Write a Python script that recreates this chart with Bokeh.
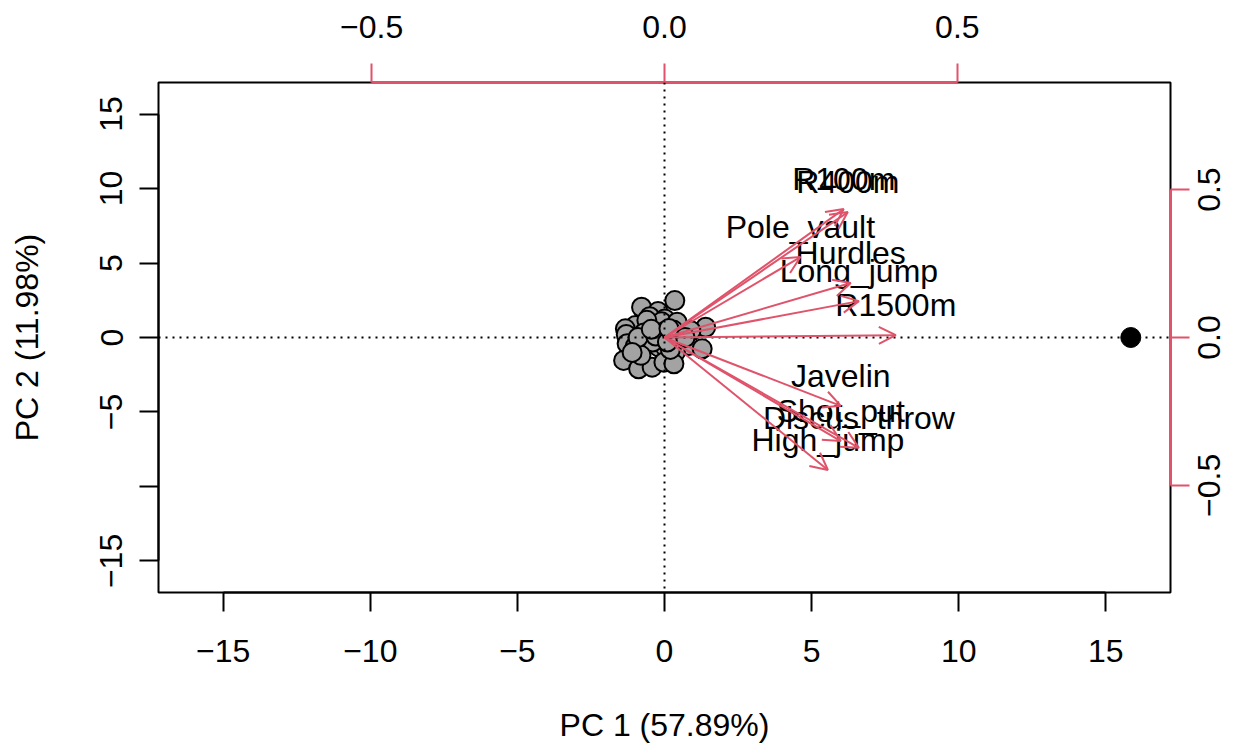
import math
from bokeh.plotting import figure
from bokeh.models import (Range1d, LinearAxis, FixedTicker, Span, Arrow, OpenHead,
                          ColumnDataSource)
from bokeh.core.properties import value
from bokeh.embed import file_html
from bokeh.resources import INLINE

# ---- data ----
pc1_scores = [0.35, -0.78, -0.22, -0.50, 0.01, -0.99, -1.33, -0.42, -0.10, -0.60,
              0.43, 1.40, 0.90, 0.30, -1.30, -0.70, 0.00, -1.27, -0.65, -0.19,
              0.03, 0.83, 1.28, 0.37, -1.00, -0.40, 0.40, -1.39, -0.88, -0.42,
              -0.02, 0.32, -0.80, 0.20, 0.70, -0.90, -0.30, 0.10, -1.10, -0.45,
              0.15]
pc2_scores = [2.48, 2.03, 1.75, 1.40, 1.25, 0.80, 0.58, 0.92, 1.05, 1.15,
              1.03, 0.69, 0.45, 0.50, 0.20, 0.30, 0.40, -0.42, -0.42, -0.65,
              -0.65, -0.54, -0.76, -0.99, -0.60, -0.30, -0.20, -1.54, -2.10, -1.99,
              -1.66, -1.77, -1.20, -0.80, 0.00, 0.00, 0.10, -0.30, -1.00, 0.55,
              0.60]
outlier_pc1 = [15.85]
outlier_pc2 = [0.0]

variables = ["R100m", "R400m", "Pole_vault", "Hurdles", "Long_jump", "R1500m",
             "Javelin", "Shot_put", "Discus_throw", "High_jump"]
load_pc1 = [0.306, 0.313, 0.232, 0.318, 0.332, 0.395, 0.301, 0.301, 0.332, 0.279]
load_pc2 = [0.434, 0.424, 0.272, 0.184, 0.123, 0.008, -0.231, -0.350, -0.373, -0.448]

x_ticks = [-15, -10, -5, 0, 5, 10, 15]
x_tick_labels = ["\u221215", "\u221210", "\u22125", "0", "5", "10", "15"]
y_ticks = [-15, -10, -5, 0, 5, 10, 15]
y_tick_labels = ["\u221215", "", "\u22125", "0", "5", "10", "15"]
load_ticks = [-0.5, 0.0, 0.5]
load_tick_labels = ["\u22120.5", "0.0", "0.5"]

x_title = "PC 1 (57.89%)"
y_title = "PC 2 (11.98%)"

RED = "#DF536B"
FONT = "Liberation Sans"
FS_PX = 32
FS = f"{FS_PX}px"

LOAD_Y = 0.862
FRAME_H = 745 - 82 - 153

p = figure(width=1245, height=745, output_backend="svg", toolbar_location=None,
           x_range=Range1d(-17.2, 17.2), y_range=Range1d(-17.12, 17.12),
           x_axis_type=None, y_axis_type=None,
           min_border_left=158, min_border_right=75, min_border_top=82,
           min_border_bottom=153)
p.extra_x_ranges = {"load": Range1d(-0.864, 0.864)}
p.extra_y_ranges = {"load": Range1d(-LOAD_Y, LOAD_Y)}
p.outline_line_color = "black"
p.outline_line_width = 2
p.background_fill_color = "white"
p.border_fill_color = "white"


def style(ax, color="black"):
    ax.axis_line_color = color
    ax.axis_line_width = 2
    ax.major_tick_line_color = color
    ax.major_tick_line_width = 2
    ax.major_tick_in = 0
    ax.major_tick_out = 19
    ax.minor_tick_line_color = None
    ax.major_label_text_font = FONT
    ax.major_label_text_font_size = FS
    ax.major_label_text_color = "black"
    ax.axis_label_text_font = FONT
    ax.axis_label_text_font_size = FS
    ax.axis_label_text_font_style = "normal"
    ax.axis_label_text_color = "black"


bottom = LinearAxis(ticker=FixedTicker(ticks=x_ticks), bounds=(-15, 15),
                    axis_label=x_title,
                    major_label_overrides=dict(zip(x_ticks, x_tick_labels)))
style(bottom)
bottom.major_label_standoff = 28
bottom.axis_label_standoff = 42
p.add_layout(bottom, "below")

left = LinearAxis(ticker=FixedTicker(ticks=y_ticks), bounds=(-15, 15),
                  axis_label=y_title,
                  major_label_overrides=dict(zip(y_ticks, y_tick_labels)))
style(left)
left.major_label_orientation = "vertical"
left.major_label_standoff = 17
left.axis_label_standoff = 53
p.add_layout(left, "left")

top = LinearAxis(x_range_name="load", ticker=FixedTicker(ticks=load_ticks),
                 bounds=(-0.5, 0.5),
                 major_label_overrides=dict(zip(load_ticks, load_tick_labels)))
style(top, RED)
top.major_label_standoff = 26
p.add_layout(top, "above")

# right axis: line + ticks only
right = LinearAxis(y_range_name="load", ticker=FixedTicker(ticks=load_ticks),
                   bounds=(-0.5, 0.5),
                   major_label_overrides={t: "" for t in load_ticks})
style(right, RED)
right.major_label_standoff = 0
p.add_layout(right, "right")

# right axis labels (bottom-to-top, centred on the ticks)
CHAR_W = {"\u2212": 0.584, "0": 0.556, ".": 0.278, "5": 0.556}
px_per_unit = FRAME_H / (2 * LOAD_Y)
shifted = []
for t, lab in zip(load_ticks, load_tick_labels):
    half_w = 0.5 * sum(CHAR_W.get(c, 0.556) for c in lab) * FS_PX
    shifted.append(t - half_w / px_per_unit)
right_lab = LinearAxis(y_range_name="load", ticker=FixedTicker(ticks=shifted),
                       major_label_overrides=dict(zip(shifted, load_tick_labels)))
style(right_lab)
right_lab.axis_line_color = None
right_lab.major_tick_line_color = None
right_lab.major_tick_out = 0
right_lab.major_label_orientation = math.pi / 2
right_lab.major_label_standoff = 20
p.add_layout(right_lab, "right")

# observations
p.scatter(pc1_scores, pc2_scores, size=19, fill_color="#A3A3A3",
          line_color="black", line_width=2)
p.scatter(outlier_pc1, outlier_pc2, size=20, fill_color="black", line_color="black")

# dotted zero lines
p.add_layout(Span(location=0, dimension="height", line_color="black",
                  line_width=2, line_dash="2 5"))
p.add_layout(Span(location=0, dimension="width", line_color="black",
                  line_width=2, line_dash="2 5"))

# variable labels
p.text(x=load_pc1, y=load_pc2, text=variables, x_range_name="load",
       y_range_name="load", text_align="center", text_baseline="middle",
       y_offset=-30, text_font=value(FONT), text_font_size=FS, text_color="black")

# loading arrows
n = len(variables)
arr_src = ColumnDataSource(dict(x0=[0.0] * n, y0=[0.0] * n, x1=load_pc1, y1=load_pc2))
p.add_layout(Arrow(end=OpenHead(size=17, line_color=RED, line_width=2),
                   source=arr_src, x_start="x0", y_start="y0", x_end="x1", y_end="y1",
                   x_range_name="load", y_range_name="load",
                   line_color=RED, line_width=2))

open("out.html", "w").write(file_html(p, INLINE))
